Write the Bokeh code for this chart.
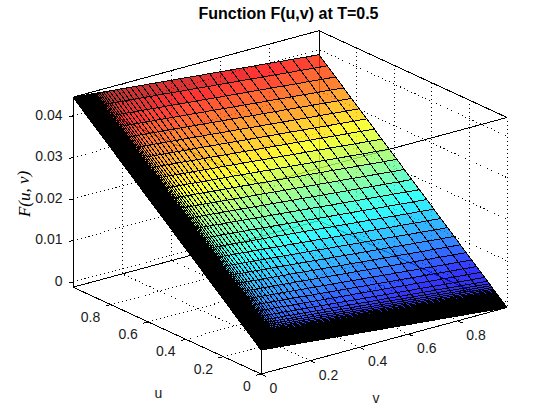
from bokeh.plotting import figure
from bokeh.embed import file_html
from bokeh.resources import INLINE
from bokeh.models import Range1d, InlineStyleSheet
from bokeh.core.properties import value

TITLE = "Function F(u,v) at T=0.5"
Y_LABEL = "F(u, v)"
X_LABEL = "u"
Z_LABEL = "v"

u_ticks = [0, 0.2, 0.4, 0.6, 0.8]
v_ticks = [0, 0.2, 0.4, 0.6, 0.8]
z_ticks = [0, 0.01, 0.02, 0.03, 0.04]
u_tick_labels = ["0", "0.2", "0.4", "0.6", "0.8"]
v_tick_labels = ["0", "0.2", "0.4", "0.6", "0.8"]
z_tick_labels = ["0", "0.01", "0.02", "0.03", "0.04"]

# mesh levels
u_levels = [0, .003, .006, .009, .012, .015, .018, .021, .024, .027, .03, .033, .036, .039, .042, .045,
            .048, .051, .054, .057, .06, .064, .068, .073, .079, .086, .094, .104, .119, .139, .162,
            .188, .217, .248, .281, .316, .352, .389, .427, .466, .506, .546, .586, .626, .666, .706,
            .746, .786, .827, .869, .912, .956, 1]
# F at v=0 for each u level
f_at_v0 = [.00453, .00465, .00477, .00489, .00501, .00513, .00525, .00537, .00549, .00561, .00573,
           .00585, .00597, .00609, .00621, .00633, .00645, .00657, .00669, .00681, .00693, .00709,
           .00725, .00745, .00769, .00797, .00829, .00869, .00929, .01009, .01101, .01204, .0132,
           .01444, .01576, .01716, .0186, .02008, .0216, .02316, .02476, .02635, .02795, .02955,
           .03115, .03275, .03435, .03595, .03759, .03926, .04098, .04274, .0445]
v_levels = [0, .003, .006, .009, .012, .015, .018, .021, .024, .027, .03, .033, .036, .039, .042, .045,
            .048, .051, .054, .057, .06, .063, .066, .069, .072, .075, .078, .081, .085, .089, .094,
            .1, .107, .115, .124, .135, .148, .163, .179, .196, .214, .234, .256, .28, .306, .334,
            .364, .399, .435, .473, .513, .555, .598, .643, .69, .739, .789, .84, .892, .946, 1]
# how much F falls below its v=0 value at each v level
f_drop = [0, .00002, .00003, .00005, .00007, .00009, .0001, .00012, .00014, .00016, .00017, .00019,
          .00021, .00023, .00024, .00026, .00028, .00029, .00031, .00033, .00035, .00036, .00038,
          .0004, .00042, .00043, .00045, .00047, .00049, .00051, .00054, .00058, .00062, .00066,
          .00072, .00078, .00086, .00094, .00103, .00113, .00124, .00135, .00148, .00162, .00177,
          .00193, .0021, .00231, .00251, .00273, .00297, .00321, .00346, .00372, .00399, .00427,
          .00456, .00486, .00516, .00547, .00578]

Z_MIN, Z_MAX = -0.00125, 0.0445
FRAME_TOP = 21
PAGE_H = 412


def project(u, v, z):
    """Orthographic view of the unit cube onto the page."""
    x = 260.5 - 188.0 * u + 246.0 * v
    y = 373.5 - 86.8 * u - 66.5 * v - (z - Z_MIN) * 190.0 / (Z_MAX - Z_MIN)
    return x, y


def polyline(points):
    pts = [project(*pt) for pt in points]
    return [a for a, _ in pts], [b for _, b in pts]


def jet(f):
    f = max(0.11, min(1.0, f))
    f = (int(f * 64) if f < 1 else 63) / 63.0
    def ch(c):
        return int(255 * max(0.0, min(1.0, 1.5 - abs(4 * f - c))))
    return "#%02x%02x%02x" % (ch(3), ch(2), ch(1))


p = figure(width=544, height=PAGE_H, output_backend="svg", toolbar_location=None,
           x_range=Range1d(0, 544), y_range=Range1d(PAGE_H, FRAME_TOP),
           x_axis_type=None, y_axis_type=None, min_border=0, min_border_top=FRAME_TOP,
           outline_line_color=None, title=TITLE)
p.grid.visible = False
p.stylesheets = [InlineStyleSheet(css=":host{shape-rendering:crispEdges;}")]
p.title.text_font = "Liberation Sans"
p.title.text_font_size = "16px"
p.title.text_font_style = "bold"
p.title.text_color = "black"
p.title.align = "left"
p.title.offset = 198
p.title.standoff = 0

# dotted grid on floor and back walls
gx, gy = [], []
for u in u_ticks:
    a, b = polyline([(u, 0, Z_MIN), (u, 1, Z_MIN), (u, 1, Z_MAX)])
    gx.append(a); gy.append(b)
for v in v_ticks:
    a, b = polyline([(0, v, Z_MIN), (1, v, Z_MIN), (1, v, Z_MAX)])
    gx.append(a); gy.append(b)
for z in z_ticks:
    a, b = polyline([(1, 0, z), (1, 1, z), (0, 1, z)])
    gx.append(a); gy.append(b)
p.multi_line(gx, gy, line_color="black", line_width=1, line_dash="1 3")

# solid box
box = [
    [(1, 0, Z_MIN), (1, 0, Z_MAX), (1, 1, Z_MAX), (0, 1, Z_MAX), (0, 0, Z_MAX), (1, 0, Z_MAX)],
    [(1, 0, Z_MIN), (0, 0, Z_MIN), (0, 1, Z_MIN), (1, 1, Z_MIN), (1, 0, Z_MIN)],
    [(0, 0, Z_MIN), (0, 0, Z_MAX)],
    [(1, 1, Z_MIN), (1, 1, Z_MAX)],
]
bx, by = zip(*[polyline(b) for b in box])
p.multi_line(list(bx), list(by), line_color="black", line_width=1)

# ticks
tx, ty = [], []
for u in u_ticks:
    a, b = polyline([(u, 0, Z_MIN), (u, -0.02, Z_MIN)])
    tx.append(a); ty.append(b)
for v in v_ticks:
    a, b = polyline([(0, v, Z_MIN), (-0.025, v, Z_MIN)])
    tx.append(a); ty.append(b)
for z in z_ticks:
    a, b = polyline([(1, 0, z), (1, -0.018, z)])
    tx.append(a); ty.append(b)
p.multi_line(tx, ty, line_color="black", line_width=1)

# surface facets
fx, fy, fc = [], [], []
span = Z_MAX - Z_MIN
for i in range(len(u_levels) - 1):
    for j in range(len(v_levels) - 1):
        corners = [(i, j), (i + 1, j), (i + 1, j + 1), (i, j + 1)]
        a, b = polyline([(u_levels[m], v_levels[n], f_at_v0[m] - f_drop[n]) for m, n in corners])
        fx.append(a); fy.append(b)
        fc.append(jet((f_at_v0[i] - f_drop[j] - Z_MIN) / span))
p.patches(fx, fy, fill_color=fc, fill_alpha=0.8, line_color=None)

# mesh lines
mx, my = [], []
for i, u in enumerate(u_levels):
    a, b = polyline([(u, v, f_at_v0[i] - d) for v, d in zip(v_levels, f_drop)])
    mx.append(a); my.append(b)
for j, v in enumerate(v_levels):
    a, b = polyline([(u, v, f - f_drop[j]) for u, f in zip(u_levels, f_at_v0)])
    mx.append(a); my.append(b)
p.multi_line(mx, my, line_color="black", line_width=1)

font = value("Liberation Sans")
ux, uy = zip(*[project(u, 0, Z_MIN) for u in u_ticks])
p.text(list(ux), list(uy), text=u_tick_labels, x_offset=-10.3, y_offset=12, text_align="right",
       text_baseline="middle", text_font=font, text_font_size="14px", text_color="#1a1a1a")
vx, vy = zip(*[project(0, v, Z_MIN) for v in v_ticks])
p.text(list(vx), list(vy), text=v_tick_labels, x_offset=8.5, y_offset=14, text_align="left",
       text_baseline="middle", text_font=font, text_font_size="14px", text_color="#1a1a1a")
zx, zy = zip(*[project(1, 0, z) for z in z_ticks])
p.text(list(zx), list(zy), text=z_tick_labels, x_offset=-10.5, y_offset=-1, text_align="right",
       text_baseline="middle", text_font=font, text_font_size="14px", text_color="#1a1a1a")

lx, ly = project(0.5, 0, Z_MIN)
p.text([lx], [ly], text=[X_LABEL], x_offset=-8.5, y_offset=62, text_align="center",
       text_baseline="middle", text_font=font, text_font_size="14px", text_color="#1a1a1a")
lx, ly = project(0, 0.5, Z_MIN)
p.text([lx], [ly], text=[Z_LABEL], x_offset=-8, y_offset=57, text_align="center",
       text_baseline="middle", text_font=font, text_font_size="14px", text_color="#1a1a1a")
lx, ly = project(1, 0, 0.02)
p.text([lx], [ly], text=[Y_LABEL], x_offset=-49, y_offset=-5, angle=1.5708, angle_units="rad",
       text_align="center", text_baseline="middle", text_font=value("Liberation Serif"),
       text_font_style="italic", text_font_size="17px", text_color="black")

open("out.html", "w").write(file_html(p, INLINE))
